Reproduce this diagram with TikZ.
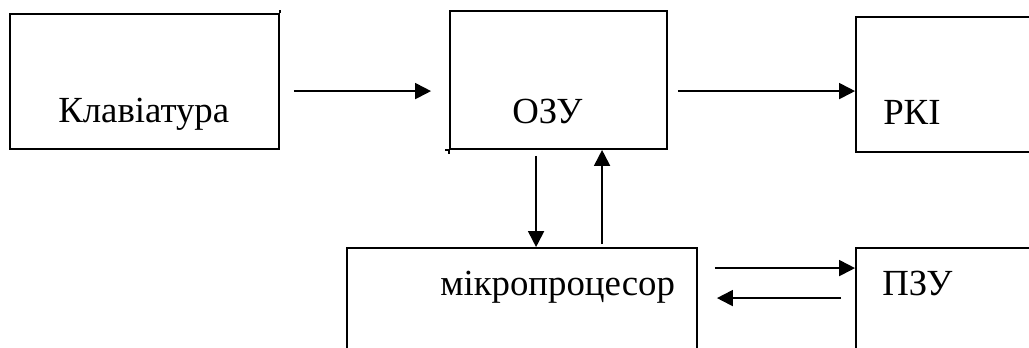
\documentclass[tikz,border=0pt]{standalone}
\usepackage{fontspec}
\setmainfont{Liberation Serif}
\usetikzlibrary{arrows.meta,calc,fit}
\tikzset{
  blk/.style={draw, line width=1.4pt, inner sep=0pt},
  lbl/.style={anchor=base west, inner sep=0pt, font=\fontsize{27.6}{32}\selectfont},
  arr/.style={line width=1.4pt, -{Triangle[length=12pt,width=12pt]}},
  tick/.style={line width=1.4pt}
}
\begin{document}
\begin{tikzpicture}[x=0.75pt,y=-0.75pt]
  \useasboundingbox (0,0) rectangle (1029,347);
  \clip (0,0) rectangle (1029,347);

  % blocks
  \node[blk, fit={(10,14) (279,149)}] (kb) {};
  \node[blk, fit={(450,11) (667,149)}] (ozu) {};
  \node[blk, fit={(856,17) (1045,152)}] (pki) {};
  \node[blk, fit={(347,248) (697,365)}] (mp) {};
  \node[blk, fit={(856,248) (1045,365)}] (pzu) {};

  % small overshoots at the corners
  \draw[tick] (kb.north east) -- ++(0,-3);
  \draw[tick] (ozu.south west) -- ++(0,4);
  \draw[tick] (ozu.south west) -- ++(-4,0);

  % labels
  \node[lbl] (tkb) at (58,122) {Клавіатура};
  \node[lbl] (tozu) at (512,123) {ОЗУ};
  \node[lbl] (tpki) at (883,124) {РКІ};
  \node[lbl] (tmp) at (440,295) {мікропроцесор};
  \node[lbl] (tpzu) at (882,295) {ПЗУ};

  % connectors
  \draw[arr] ($(kb.north east)+(14,78)$) -- ($(ozu.north west)+(-18,81)$);
  \draw[arr] ($(ozu.north east)+(10,81)$) -- ($(pki.north west)+(0,75)$);
  \draw[arr] ($(ozu.south west)+(87,6)$) -- ($(mp.north west)+(190,0)$);
  \draw[arr] ($(mp.north west)+(256,-3)$) -- ($(ozu.south west)+(153,0)$);
  \draw[arr] ($(mp.north east)+(17,21)$) -- ($(pzu.north west)+(0,21)$);
  \draw[arr] ($(pzu.north west)+(-14,51)$) -- ($(mp.north east)+(19,51)$);
\end{tikzpicture}
\end{document}
